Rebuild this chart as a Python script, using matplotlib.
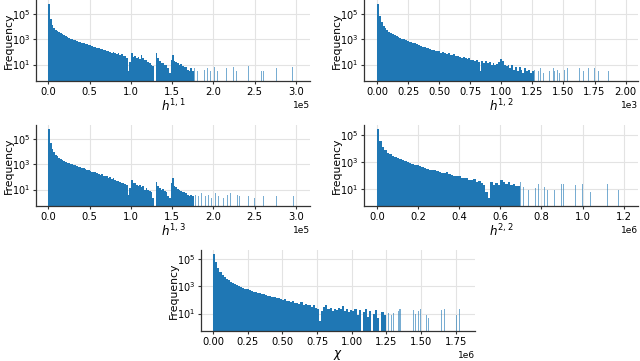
import matplotlib
matplotlib.use("Agg")
import matplotlib.pyplot as plt
import numpy as np
from matplotlib.ticker import MultipleLocator, NullLocator

plt.rcParams['font.family'] = 'DejaVu Sans'

BLUE = '#1f77b4'

################## DATA (bin counts) ##################
# h^{1,1}: contiguous bins of width 2000, then isolated tail bars
h11_width = 2000
h11_counts = [631000, 39800, 14100, 7940, 5620, 4470, 3550, 2950, 2400, 2000,
              1660, 1410, 1260, 1120, 1000, 891, 794, 676, 631, 589,
              525, 479, 457, 398, 380, 331, 316, 263, 251, 214,
              200, 166, 178, 132, 141, 112, 126, 100, 89, 105,
              79, 71, 79, 56, 63, 45, 50, 35, 3, 16,
              89, 40, 50, 32, 40, 28, 56, 32, 22, 25,
              16, 13, 10, 8, 0, 89, 32, 18, 13, 14,
              10, 9, 5, 2, 25, 56, 20, 16, 13, 10,
              11, 8, 6, 6, 4, 3, 5, 3]
h11_tail_x = [1.77e5, 1.81e5, 1.85e5, 1.89e5, 1.93e5, 1.96e5, 2.01e5, 2.05e5, 2.16e5, 2.20e5,
              2.24e5, 2.28e5, 2.31e5, 2.42e5, 2.48e5, 2.58e5, 2.61e5, 2.76e5, 2.96e5, 3.00e5]
h11_tail_counts = [5, 3, 6, 4, 5, 3, 6, 3, 5, 4, 6, 3, 5, 8, 3, 3, 3, 5, 7, 3]

# h^{1,2}: bins of width 15
h12_width = 15
h12_counts = [631000, 70800, 22400, 11200, 7590, 5250, 3980, 3020, 2510, 2090,
              1780, 1510, 1260, 1120, 1000, 832, 759, 631, 603, 501,
              479, 398, 355, 316, 263, 251, 209, 200, 178, 151,
              141, 126, 112, 120, 89, 95, 79, 71, 79, 60,
              56, 63, 45, 50, 40, 35, 40, 32, 28, 32,
              22, 25, 20, 22, 16, 3, 20, 14, 18, 13,
              16, 10, 13, 9, 11, 16, 28, 18, 10, 8,
              10, 5, 9, 4, 6, 3, 6, 4, 2, 5,
              3, 4, 2, 3]
h12_tail_x = [1270, 1300, 1315, 1340, 1360, 1390, 1420, 1430, 1450, 1470,
              1510, 1530, 1630, 1660, 1700, 1750, 1780, 1860, 1980]
h12_tail_counts = [4, 3, 5, 2, 4, 3, 5, 3, 4, 2, 4, 5, 5, 3, 5, 5, 3, 3, 5]

# h^{1,3}: bins of width 2000
h13_width = 2000
h13_counts = [631000, 50100, 15800, 8910, 5620, 4170, 3310, 2630, 2140, 1780,
              1510, 1320, 1170, 1050, 955, 891, 794, 708, 631, 603,
              525, 479, 417, 355, 331, 282, 263, 224, 240, 191,
              166, 141, 158, 126, 112, 126, 89, 100, 71, 79,
              56, 50, 45, 40, 35, 32, 28, 22, 4, 13,
              56, 32, 35, 22, 20, 25, 16, 18, 10, 13,
              9, 8, 7, 2, 0, 40, 20, 13, 10, 11,
              8, 7, 3, 2, 32, 79, 20, 16, 11, 10,
              8, 7, 6, 5, 4, 3, 4, 3]
h13_tail_x = [1.78e5, 1.82e5, 1.86e5, 1.90e5, 1.94e5, 1.98e5, 2.02e5, 2.06e5, 2.12e5, 2.17e5,
              2.21e5, 2.25e5, 2.29e5, 2.32e5, 2.42e5, 2.50e5, 2.61e5, 2.76e5, 2.97e5, 3.00e5]
h13_tail_counts = [4, 3, 5, 3, 4, 2, 5, 3, 2, 4, 5, 3, 4, 3, 3, 2, 3, 3, 3, 2]

# h^{2,2}: bins of width 12000
h22_width = 12000
h22_counts = [316000, 35500, 14100, 7940, 5250, 3800, 3020, 2400, 2000, 1660,
              1410, 1200, 1000, 891, 759, 661, 603, 501, 417, 380,
              331, 282, 263, 240, 224, 200, 166, 151, 178, 126,
              112, 100, 89, 95, 71, 63, 71, 50, 45, 56,
              35, 40, 28, 20, 6, 2, 32, 20, 28, 20,
              45, 35, 25, 32, 20, 22, 16, 18]
h22_tail_x = [0.700e6, 0.714e6, 0.725e6, 0.738e6, 0.754e6, 0.771e6, 0.787e6, 0.803e6, 0.816e6, 0.828e6,
              0.865e6, 0.876e6, 0.898e6, 0.909e6, 0.920e6, 0.966e6, 0.998e6, 1.039e6, 1.120e6, 1.177e6,
              1.197e6]
h22_tail_counts = [35, 15, 25, 8, 20, 11, 25, 6, 15, 8, 9, 8, 22, 25, 7, 20, 22, 6, 22, 8, 22]

# chi: bins of width 15000
chi_width = 15000
chi_counts = [251000, 56200, 22400, 11200, 7080, 4790, 3550, 2820, 2240, 1780,
              1410, 1200, 1000, 891, 759, 661, 603, 525, 479, 398,
              417, 331, 316, 263, 282, 224, 200, 209, 158, 166,
              132, 141, 112, 100, 126, 83, 89, 71, 79, 60,
              63, 50, 71, 45, 50, 40, 45, 32, 40, 28,
              20, 3, 16, 32, 45, 20, 25, 16, 22, 18,
              25, 20, 35, 16, 20, 13, 18, 16, 20, 8,
              18, 0, 13, 20, 6, 16, 0, 10, 18, 5,
              0, 14, 8, 0]
chi_tail_x = [1.265e6, 1.290e6, 1.300e6, 1.320e6, 1.335e6, 1.345e6, 1.355e6, 1.370e6, 1.446e6, 1.459e6,
              1.483e6, 1.497e6, 1.538e6, 1.555e6, 1.651e6, 1.670e6, 1.759e6, 1.778e6]
chi_tail_counts = [12, 8, 12, 10, 16, 20, 22, 20, 19, 10, 16, 22, 8, 5, 17, 22, 8, 22]


################## PLOTTING ##################
def draw(ax, counts, width, tail_x, tail_counts, xlim, ylim, step, label):
    edges = np.arange(len(counts) + 1) * width
    centers = edges[:-1] + width / 2
    ax.hist(centers, bins=edges, weights=counts, histtype='stepfilled',
            color=BLUE, lw=0, log=True, zorder=2)
    ax.bar(tail_x, tail_counts, width=0.003 * (xlim[1] - xlim[0]),
           color=BLUE, alpha=0.6, lw=0, zorder=2)
    ax.set_xlim(*xlim)
    ax.set_ylim(*ylim)
    ax.xaxis.set_major_locator(MultipleLocator(step))
    ax.set_yticks([1e1, 1e3, 1e5])
    ax.yaxis.set_minor_locator(NullLocator())
    ax.ticklabel_format(axis='x', style='sci', scilimits=(0, 0))
    ax.xaxis.get_offset_text().set_fontsize(6.5)
    ax.grid(True, color='#e3e3e3', lw=0.8, zorder=0)
    ax.set_axisbelow(True)
    for s in ['top', 'right']:
        ax.spines[s].set_visible(False)
    for s in ['left', 'bottom']:
        ax.spines[s].set_color('#333333')
        ax.spines[s].set_linewidth(0.9)
    ax.tick_params(labelsize=7.2, length=2.5, width=0.8, color='#333333', pad=2)
    ax.tick_params(axis='y', labelsize=7.0, pad=1.5)
    ax.set_xlabel(label, fontsize=8.6, labelpad=0.5)
    ax.set_ylabel('Frequency', fontsize=7.8)
    # right edge of the rotated label ~14 px from the figure's left edge
    ax.yaxis.set_label_coords(-22 / 274, 0.5)


fig = plt.figure(figsize=(6.4, 3.61), dpi=100)
w, h = 274 / 640, 81 / 361
ax1 = fig.add_axes([36 / 640, 1 - 81 / 361, w, h])
ax2 = fig.add_axes([364 / 640, 1 - 81 / 361, w, h])
ax3 = fig.add_axes([36 / 640, 1 - 206 / 361, w, h])
ax4 = fig.add_axes([364 / 640, 1 - 206 / 361, w, h])
ax5 = fig.add_axes([201 / 640, 1 - 331 / 361, w, h])

draw(ax1, h11_counts, h11_width, h11_tail_x, h11_tail_counts,
     (-0.15e5, 3.17e5), (0.51, 1.23e6), 0.5e5, r'$h^{1,1}$')
draw(ax2, h12_counts, h12_width, h12_tail_x, h12_tail_counts,
     (-105, 2100), (0.51, 1.23e6), 250, r'$h^{1,2}$')
draw(ax3, h13_counts, h13_width, h13_tail_x, h13_tail_counts,
     (-0.15e5, 3.17e5), (0.51, 1.23e6), 0.5e5, r'$h^{1,3}$')
draw(ax4, h22_counts, h22_width, h22_tail_x, h22_tail_counts,
     (-0.063e6, 1.27e6), (0.53, 6.0e5), 0.2e6, r'$h^{2,2}$')
draw(ax5, chi_counts, chi_width, chi_tail_x, chi_tail_counts,
     (-0.088e6, 1.89e6), (0.53, 4.6e5), 0.25e6, r'$\chi$')

plt.savefig('out.png', dpi=100)
